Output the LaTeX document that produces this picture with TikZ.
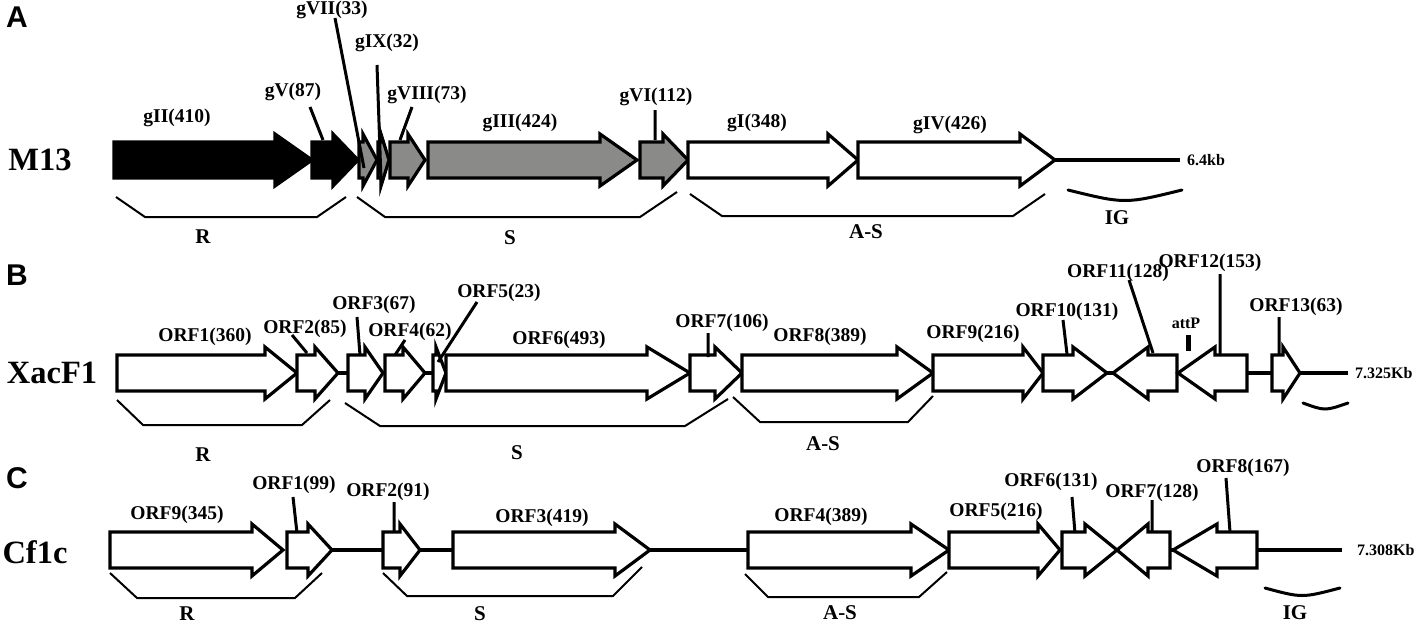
\documentclass[tikz,border=0pt]{standalone}
\usepackage{fontspec}
\setmainfont{Liberation Serif}
\newfontfamily\panelfont{Liberation Sans}
\definecolor{genegray}{RGB}{138,138,136}
\newcommand\gn[5]{\draw[genestyle,fill=#5] (#1,#4-18)--(#2,#4-18)--(#2,#4-26)--(#3,#4)--(#2,#4+26)--(#2,#4+18)--(#1,#4+18)--cycle;}
\begin{document}
\begin{tikzpicture}[x=1pt,y=-1pt,
  genestyle/.style={draw=black,line width=3.2pt,line join=miter,miter limit=10},
  lab/.style={font=\fontsize{19.5}{20}\selectfont\bfseries,inner sep=0pt},
  big/.style={font=\fontsize{32.5}{34}\selectfont\bfseries,inner sep=0pt},
  small/.style={font=\fontsize{16}{17}\selectfont\bfseries,inner sep=0pt},
  region/.style={font=\fontsize{21}{22}\selectfont\bfseries,inner sep=0pt},
  panel/.style={font=\fontsize{30}{31}\selectfont\panelfont\bfseries,inner sep=0pt},
  pointer/.style={line width=3pt},
  bracket/.style={line width=2pt,line join=miter},
  backbone/.style={line width=3.4pt},
  igarc/.style={line width=3pt,line cap=round}]
\useasboundingbox (0,0) rectangle (1417,626);

% ================= Panel A =================
\node[panel] (pA) at (17,17) {A};
\node[big] (nM13) at (40,160) {M13};
\gn{114}{275}{312}{160}{black}
\gn{312}{333}{358}{160}{black}
\gn{359}{363}{377}{160}{genegray}
\gn{378}{381}{389}{160}{genegray}
\gn{390}{408}{425}{160}{genegray}
\gn{428}{600}{637}{160}{genegray}
\gn{640}{663}{688}{160}{genegray}
\gn{688}{828}{858}{160}{white}
\gn{858}{1020}{1055}{160}{white}
\coordinate (abb1) at (1055,160); \coordinate (abb2) at (1180,160);
\draw[backbone] (abb1) -- (abb2);
\node[small,anchor=west] (a64) at (1187,160) {6.4kb};

\node[lab] (lgII) at (177,118) {gII(410)};
\node[lab] (lgV) at (293,92) {gV(87)};
\node[lab] (lgVII) at (332,10) {gVII(33)};
\node[lab] (lgIX) at (387,43) {gIX(32)};
\node[lab] (lgVIII) at (427,95) {gVIII(73)};
\node[lab] (lgIII) at (520,123) {gIII(424)};
\node[lab] (lgVI) at (656,97) {gVI(112)};
\node[lab] (lgI) at (757,123) {gI(348)};
\node[lab] (lgIV) at (950,125) {gIV(426)};

\coordinate (pa1) at (310,107); \coordinate (pa1e) at (323,140);
\coordinate (pa2) at (335,18);  \coordinate (pa2e) at (364,168);
\coordinate (pa3) at (377,65);  \coordinate (pa3e) at (381,180);
\coordinate (pa4) at (412,107); \coordinate (pa4e) at (400,140);
\coordinate (pa5) at (655,110); \coordinate (pa5e) at (655,140);
\draw[pointer] (pa1)--(pa1e) (pa2)--(pa2e) (pa3)--(pa3e) (pa4)--(pa4e) (pa5)--(pa5e);

\draw[bracket] (116,197)--(145,217)--(317,217)--(346,197);
\draw[bracket] (357,197)--(385,217)--(640,217)--(677,192);
\draw[bracket] (690,194)--(722,216)--(1013,216)--(1045,194);
\draw[igarc] (1068,190) .. controls (1125,204) .. (1182,190);
\node[region] (aR) at (203,237) {R};
\node[region] (aS) at (510,238) {S};
\node[region] (aAS) at (866,232) {A-S};
\node[region] (aIG) at (1117,218) {IG};

% ================= Panel B =================
\node[panel] (pB) at (17,275) {B};
\node[big] (nX) at (52,373) {XacF1};
\gn{117}{265}{297}{373}{white}
\gn{297}{315}{338}{373}{white}
\gn{348}{365}{383}{373}{white}
\gn{385}{403}{425}{373}{white}
\gn{433}{436}{446}{373}{white}
\gn{446}{647}{690}{373}{white}
\gn{690}{715}{742}{373}{white}
\gn{742}{897}{933}{373}{white}
\gn{933}{1023}{1043}{373}{white}
\gn{1043}{1073}{1107}{373}{white}
\gn{1177}{1148}{1113}{373}{white}
\gn{1247}{1215}{1178}{373}{white}
\gn{1272}{1283}{1300}{373}{white}
\coordinate (b1) at (338,373); \coordinate (b2) at (348,373);
\coordinate (b3) at (425,373); \coordinate (b4) at (433,373);
\coordinate (b5) at (1107,373); \coordinate (b6) at (1113,373);
\coordinate (b7) at (1247,373); \coordinate (b8) at (1272,373);
\coordinate (b9) at (1300,373); \coordinate (b10) at (1348,373);
\draw[backbone] (b1)--(b2) (b3)--(b4) (b5)--(b6) (b7)--(b8) (b9)--(b10);
\node[small,anchor=west] (b7325) at (1355,373) {7.325Kb};

\node[lab] (lo1) at (205,337) {ORF1(360)};
\node[lab] (lo2) at (305,329) {ORF2(85)};
\node[lab] (lo3) at (374,305) {ORF3(67)};
\node[lab] (lo4) at (410,332) {ORF4(62)};
\node[lab] (lo5) at (499,293) {ORF5(23)};
\node[lab] (lo6) at (559,340) {ORF6(493)};
\node[lab] (lo7) at (722,323) {ORF7(106)};
\node[lab] (lo8) at (820,337) {ORF8(389)};
\node[lab] (lo9) at (973,334) {ORF9(216)};
\node[lab] (lo10) at (1067,312) {ORF10(131)};
\node[lab] (lo11) at (1118,273) {ORF11(128)};
\node[lab] (lo12) at (1210,263) {ORF12(153)};
\node[lab] (lo13) at (1296,307) {ORF13(63)};
\node[small] (attP) at (1186,323) {attP};
\coordinate (at1) at (1188,335); \coordinate (at2) at (1188,351);
\draw[line width=5pt] (at1)--(at2);

\coordinate (pb2) at (292,335);  \coordinate (pb2e) at (307,353);
\coordinate (pb3) at (357,317);  \coordinate (pb3e) at (360,355);
\coordinate (pb4) at (405,340);  \coordinate (pb4e) at (395,355);
\coordinate (pb5) at (477,302);  \coordinate (pb5e) at (438,362);
\coordinate (pb7) at (708,333);  \coordinate (pb7e) at (708,357);
\coordinate (pb10) at (1063,320); \coordinate (pb10e) at (1067,354);
\coordinate (pb11) at (1129,280); \coordinate (pb11e) at (1153,353);
\coordinate (pb12) at (1220,274); \coordinate (pb12e) at (1220,355);
\coordinate (pb13) at (1279,317); \coordinate (pb13e) at (1279,355);
\draw[pointer] (pb2)--(pb2e) (pb3)--(pb3e) (pb4)--(pb4e) (pb5)--(pb5e) (pb7)--(pb7e)
  (pb10)--(pb10e) (pb11)--(pb11e) (pb12)--(pb12e) (pb13)--(pb13e);

\draw[bracket] (117,400)--(143,425)--(302,425)--(330,400);
\draw[bracket] (345,403)--(380,426)--(685,426)--(728,399);
\draw[bracket] (733,397)--(760,422)--(908,422)--(933,396);
\draw[igarc] (1303,403) .. controls (1325,411) .. (1348,403);
\node[region] (bR) at (203,455) {R};
\node[region] (bS) at (517,453) {S};
\node[region] (bAS) at (823,444) {A-S};

% ================= Panel C =================
\node[panel] (pC) at (17,478) {C};
\node[big] (nC) at (35,552) {Cf1c};
\gn{110}{252}{283}{550}{white}
\gn{287}{308}{332}{550}{white}
\gn{383}{400}{420}{550}{white}
\gn{453}{615}{650}{550}{white}
\gn{748}{911}{949}{550}{white}
\gn{949}{1038}{1060}{550}{white}
\gn{1062}{1085}{1117}{550}{white}
\gn{1170}{1148}{1117}{550}{white}
\gn{1257}{1217}{1173}{550}{white}
\coordinate (c1) at (332,550); \coordinate (c2) at (383,550);
\coordinate (c3) at (420,550); \coordinate (c4) at (453,550);
\coordinate (c5) at (650,550); \coordinate (c6) at (748,550);
\coordinate (c7) at (1170,550); \coordinate (c8) at (1173,550);
\coordinate (c9) at (1257,550); \coordinate (c10) at (1342,550);
\draw[backbone] (c1)--(c2) (c3)--(c4) (c5)--(c6) (c7)--(c8) (c9)--(c10);
\node[small,anchor=west] (c7308) at (1357,550) {7.308Kb};

\node[lab] (lc9) at (177,515) {ORF9(345)};
\node[lab] (lc1) at (294,485) {ORF1(99)};
\node[lab] (lc2) at (388,492) {ORF2(91)};
\node[lab] (lc3) at (542,518) {ORF3(419)};
\node[lab] (lc4) at (821,517) {ORF4(389)};
\node[lab] (lc5) at (996,512) {ORF5(216)};
\node[lab] (lc6) at (1051,482) {ORF6(131)};
\node[lab] (lc7) at (1152,493) {ORF7(128)};
\node[lab] (lc8) at (1243,468) {ORF8(167)};

\coordinate (pc1) at (293,497);  \coordinate (pc1e) at (297,533);
\coordinate (pc2) at (394,502);  \coordinate (pc2e) at (394,532);
\coordinate (pc6) at (1072,497); \coordinate (pc6e) at (1075,533);
\coordinate (pc7) at (1152,500); \coordinate (pc7e) at (1152,532);
\coordinate (pc8) at (1226,478); \coordinate (pc8e) at (1230,532);
\draw[pointer] (pc1)--(pc1e) (pc2)--(pc2e) (pc6)--(pc6e) (pc7)--(pc7e) (pc8)--(pc8e);

\draw[bracket] (110,573)--(137,598)--(295,598)--(322,573);
\draw[bracket] (383,573)--(407,596)--(613,596)--(642,567);
\draw[bracket] (745,574)--(768,597)--(919,597)--(947,572);
\draw[igarc] (1265,588) .. controls (1302,598) .. (1340,588);
\node[region] (cR) at (187,614) {R};
\node[region] (cS) at (480,614) {S};
\node[region] (cAS) at (840,613) {A-S};
\node[region] (cIG) at (1295,613) {IG};
\end{tikzpicture}
\end{document}
